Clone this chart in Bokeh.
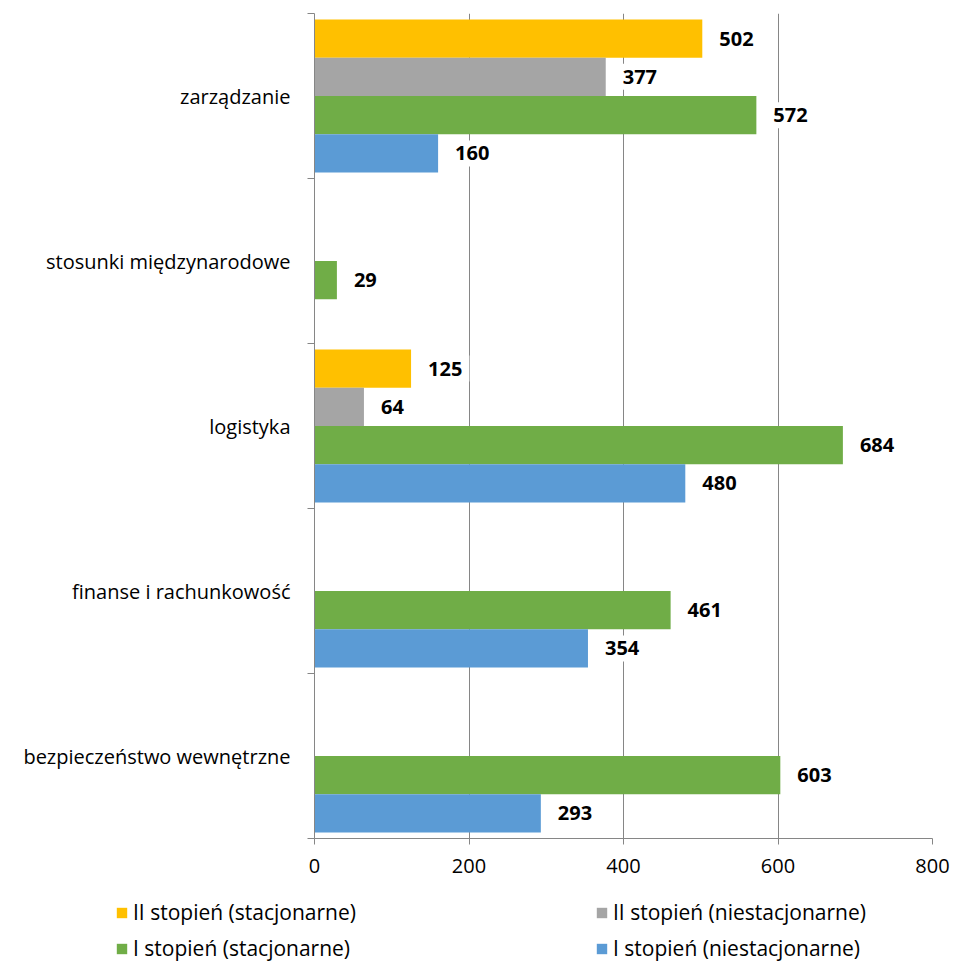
from bokeh.plotting import figure
from bokeh.layouts import column
from bokeh.models import (Range1d, FixedTicker, LinearAxis, Legend, LegendItem,
                          ColumnDataSource, Grid)
from bokeh.core.properties import value
from bokeh.embed import file_html
from bokeh.resources import INLINE

# Study programmes, listed top to bottom
categories = ["zarządzanie", "stosunki międzynarodowe", "logistyka",
              "finanse i rachunkowość", "bezpieczeństwo wewnętrzne"]

# Number of students per programme and mode (None = no students)
ii_stac = [502, None, 125, None, None]
ii_niestac = [377, None, 64, None, None]
i_stac = [572, 29, 684, 461, 603]
i_niestac = [160, None, 480, 354, 293]

series_names = ["II stopień (stacjonarne)", "II stopień (niestacjonarne)",
                "I stopień (stacjonarne)", "I stopień (niestacjonarne)"]
series_values = [ii_stac, ii_niestac, i_stac, i_niestac]
series_colors = ["#FFC000", "#A5A5A5", "#70AD47", "#5B9BD5"]

x_ticks = [0, 200, 400, 600, 800]

FONT = "Open Sans"
n_cat = len(categories)
bar_h = 0.232
offsets = [1.5 * bar_h, 0.5 * bar_h, -0.5 * bar_h, -1.5 * bar_h]

p = figure(width=954, height=886, output_backend="svg", toolbar_location=None,
           x_range=Range1d(0, 800), y_range=Range1d(0, n_cat),
           min_border_left=314, min_border_right=22, min_border_top=13,
           min_border_bottom=48, outline_line_color=None,
           x_axis_type=None, y_axis_type=None, frame_align=False)
p.background_fill_color = "white"
p.border_fill_color = "white"

# centre of each category band (bottom category at 0.5)
centers = [n_cat - 1 - i + 0.5 for i in range(n_cat)]

sources = []
for vals, color, off in zip(series_values, series_colors, offsets):
    xs, ys, lbls = [], [], []
    for c, v in zip(centers, vals):
        if v is None:
            continue
        xs.append(v)
        ys.append(c + off)
        lbls.append(str(v))
    src = ColumnDataSource(dict(v=xs, y=ys, lbl=lbls))
    sources.append(src)
    p.hbar(y="y", left=0, right="v", height=bar_h, source=src,
           fill_color=color, line_color=None)
    p.text(x="v", y="y", text="lbl", source=src, x_offset=10,
           text_align="left", text_baseline="middle",
           text_font=value(FONT), text_font_style="bold",
           text_font_size="20px", text_color="black",
           background_fill_color="white", padding=(7, 6))

# x axis
xaxis = LinearAxis(ticker=FixedTicker(ticks=x_ticks, minor_ticks=[]))
xaxis.axis_line_color = "#868686"
xaxis.major_tick_line_color = "#868686"
xaxis.major_tick_out = 6
xaxis.major_tick_in = 0
xaxis.minor_tick_line_color = None
xaxis.major_label_standoff = 14
xaxis.major_label_text_font = FONT
xaxis.major_label_text_font_size = "20px"
xaxis.major_label_text_color = "black"
p.add_layout(xaxis, "below")

# y axis: labels at band centres, tick marks at band boundaries
yaxis = LinearAxis(ticker=FixedTicker(ticks=centers,
                                      minor_ticks=list(range(n_cat + 1))))
yaxis.major_label_overrides = {c: name for c, name in zip(centers, categories)}
yaxis.axis_line_color = "#868686"
yaxis.major_tick_line_color = None
yaxis.major_tick_out = 0
yaxis.major_tick_in = 0
yaxis.minor_tick_line_color = "#868686"
yaxis.minor_tick_out = 7
yaxis.minor_tick_in = 0
yaxis.major_label_standoff = 17
yaxis.major_label_text_font = FONT
yaxis.major_label_text_font_size = "20px"
yaxis.major_label_text_color = "black"
p.add_layout(yaxis, "left")

# vertical grid lines
grid = Grid(dimension=0, ticker=xaxis.ticker, grid_line_color="#868686")
p.add_layout(grid)

# legend strip underneath the chart, two columns; its swatch renderers
# share the series data but sit outside this strip's visible x range
leg = figure(width=954, height=76, output_backend="svg", toolbar_location=None,
             x_range=Range1d(-2, -1), y_range=Range1d(0, 1),
             min_border_left=0, min_border_right=0, min_border_top=0,
             min_border_bottom=0, outline_line_color=None,
             x_axis_type=None, y_axis_type=None, frame_align=False)
leg.border_fill_color = "white"
leg.background_fill_color = "white"
items = []
for name, color, src in zip(series_names, series_colors, sources):
    swatch = leg.hbar(y="y", left=0, right="v", height=0.1, source=src,
                      fill_color=color, line_color=None)
    items.append(LegendItem(label=name, renderers=[swatch]))
legend = Legend(items=items, location=(115, 0), orientation="horizontal", ncols=2,
                glyph_width=13, glyph_height=13, label_standoff=5,
                label_width=454, label_height=28, spacing=8,
                label_text_font=FONT, label_text_font_size="21px",
                label_text_color="black", border_line_color=None,
                background_fill_alpha=0, padding=0, margin=0)
leg.add_layout(legend, "center")

open("out.html", "w").write(file_html(column(p, leg, spacing=0), INLINE))
